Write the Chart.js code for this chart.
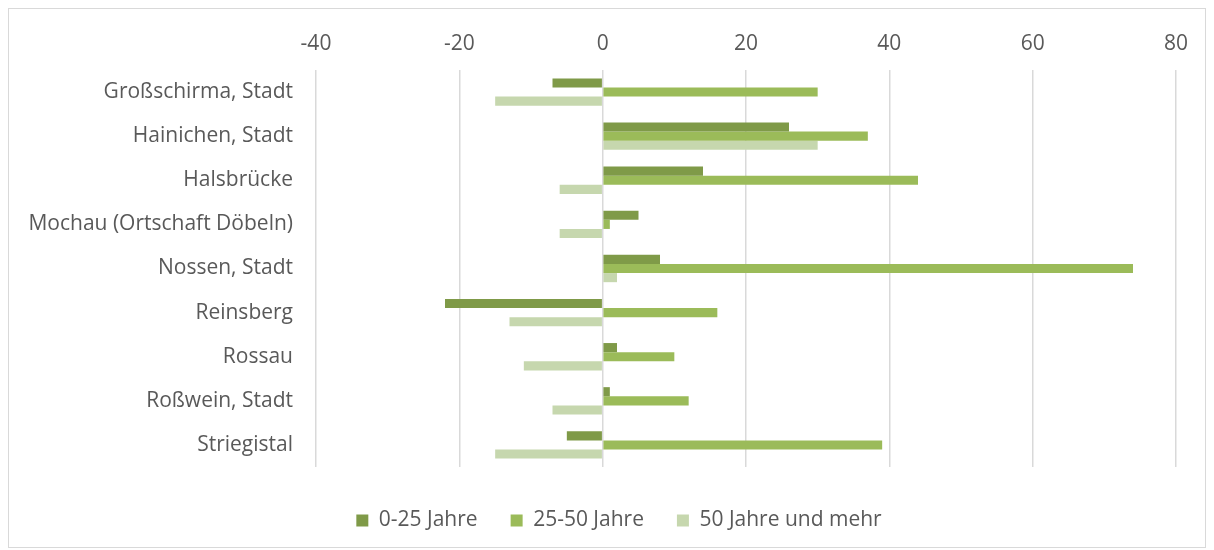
<!DOCTYPE html>
<html>
<head>
<meta charset="utf-8">
<script src="https://cdn.jsdelivr.net/npm/chart.js@4"></script>
<style>
  body { margin: 0; background: #fff; }
  #box {
    position: absolute; left: 8px; top: 8px;
    width: 1196px; height: 538px;
    border: 1px solid #d9d9d9;
  }
</style>
</head>
<body>
<div id="box"><canvas id="chart" width="1196" height="538"></canvas></div>
<script>
const places = [
  "Großschirma, Stadt",
  "Hainichen, Stadt",
  "Halsbrücke",
  "Mochau (Ortschaft Döbeln)",
  "Nossen, Stadt",
  "Reinsberg",
  "Rossau",
  "Roßwein, Stadt",
  "Striegistal"
];

const seriesNames = ["0-25 Jahre", "25-50 Jahre", "50 Jahre und mehr"];

const young = [-7, 26, 14, 5, 8, -22, 2, 1, -5];
const middle = [30, 37, 44, 1, 74, 16, 10, 12, 39];
const older = [-15, 30, -6, -6, 2, -13, -11, -7, -15];

const colors = ["#7f9a48", "#9bbb59", "#c6d7ae"];
const textColor = "#595959";
const font = { family: "'Open Sans', sans-serif", size: 21 };

// empty scale used only to reserve space around the plot
const spacer = (position, size) => ({
  type: "linear",
  position: position,
  display: true,
  grid: { display: false },
  ticks: { display: false },
  border: { display: false },
  afterFit: (scale) => {
    if (position === "bottom") scale.height = size;
    else scale.width = size;
  },
});

new Chart(document.getElementById("chart"), {
  type: "bar",
  data: {
    labels: places,
    datasets: [young, middle, older].map((values, i) => ({
      label: seriesNames[i],
      data: values,
      backgroundColor: colors[i],
      barPercentage: 1,
      categoryPercentage: 0.62,
    })),
  },
  options: {
    indexAxis: "y",
    responsive: false,
    animation: false,
    // negative right padding shifts the legend centre to the right
    layout: { padding: { left: 0, right: -24, top: 0, bottom: 6 } },
    plugins: {
      legend: {
        position: "bottom",
        labels: {
          boxWidth: 12,
          boxHeight: 12,
          color: textColor,
          font: font,
          padding: 33,
        },
      },
      tooltip: { enabled: false },
    },
    scales: {
      x: {
        position: "top",
        min: -40,
        max: 80,
        ticks: { stepSize: 20, color: textColor, font: font, padding: 13 },
        grid: { color: "#d9d9d9", lineWidth: 1.5, drawTicks: false },
        border: { display: false },
        afterFit: (scale) => { scale.height = 61; },
      },
      y: {
        grid: { display: false },
        border: { display: false },
        ticks: { color: textColor, font: font, padding: 15 },
        afterFit: (scale) => { scale.width = 307; },
      },
      gapBottom: spacer("bottom", 10),
      gapRight: spacer("right", 53),
    },
  },
});
</script>
</body>
</html>
